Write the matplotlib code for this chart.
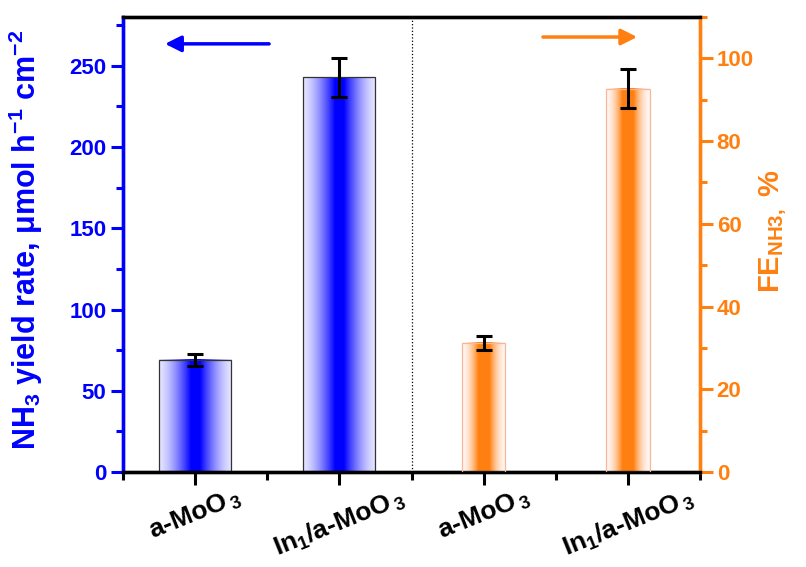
import numpy as np
import matplotlib
matplotlib.use("Agg")
import matplotlib.pyplot as plt
from matplotlib.colors import to_rgb
from matplotlib.ticker import MultipleLocator, FixedLocator

plt.rcParams['font.family'] = ['Liberation Sans', 'DejaVu Sans']
plt.rcParams['font.weight'] = 'bold'
plt.rcParams['mathtext.fontset'] = 'custom'
plt.rcParams['mathtext.rm'] = 'Liberation Sans:bold'
plt.rcParams['mathtext.it'] = 'Liberation Sans:bold:italic'
plt.rcParams['mathtext.bf'] = 'Liberation Sans:bold'
plt.rcParams['mathtext.default'] = 'rm'

# ---- data ----
categories = ["a-MoO$_{\\,3}$", "In$_1$/a-MoO$_{\\,3}$", "a-MoO$_{\\,3}$", "In$_1$/a-MoO$_{\\,3}$"]
yield_rate = [69, 243]          # NH3 yield rate, umol h-1 cm-2
yield_err = [3.5, 12]
fe_values = [31.2, 92.7]        # FE NH3, %
fe_err = [1.7, 4.7]

BLUE = '#0000ff'
ORANGE = '#ff8010'

fig = plt.figure(figsize=(8.06, 5.67), dpi=100)
ax = fig.add_axes([123/806, 1-472/567, (700-123)/806, (472-17)/567])
ax2 = ax.twinx()

x_yield = np.array([1, 2])
x_fe = np.array([3, 4])


def gradient_bars(axis, xs, hs, width, center, edge, edgecolor, core, power):
    c = np.array(to_rgb(center))
    e = np.array(to_rgb(edge))
    u = np.linspace(-1, 1, 401)
    w = np.clip((1 - np.abs(u)) / (1 - core), 0, 1) ** power
    row = e[None, :] * (1 - w[:, None]) + c[None, :] * w[:, None]
    img = np.repeat(row[None, :, :], 4, axis=0)
    bars = axis.bar(xs, hs, width=width, facecolor='none', edgecolor=edgecolor,
                    linewidth=0.9, zorder=3)
    for b in bars:
        x0 = b.get_x()
        axis.imshow(img, extent=(x0, x0 + b.get_width(), 0, b.get_height()),
                    aspect='auto', zorder=2, interpolation='nearest')
    return bars


gradient_bars(ax, x_yield, yield_rate, 0.5, BLUE, '#e4e4ff', '#333333', 0.12, 1.5)
ax.errorbar(x_yield, yield_rate, yerr=yield_err, fmt='none', ecolor='black',
            elinewidth=2.2, capsize=5.5, capthick=2.2, zorder=4)

gradient_bars(ax2, x_fe, fe_values, 0.3, ORANGE, '#fff6f2', '#f4b89a', 0.25, 1.8)
ax2.errorbar(x_fe, fe_values, yerr=fe_err, fmt='none', ecolor='black',
             elinewidth=2.2, capsize=5.5, capthick=2.2, zorder=4)

ax.axvline(2.5, color='black', ls=':', lw=0.9, zorder=1)

ax.set_xlim(0.5, 4.5)
ax.set_ylim(0, 280)
ax2.set_ylim(0, 110)

# ticks
ax.xaxis.set_major_locator(FixedLocator([1, 2, 3, 4]))
ax.xaxis.set_minor_locator(FixedLocator([0.5, 1.5, 2.5, 3.5, 4.5]))
ax.set_xticklabels(categories, rotation=22, fontsize=19, fontweight='bold')
ax.yaxis.set_major_locator(MultipleLocator(50))
ax.yaxis.set_minor_locator(MultipleLocator(25))
ax2.yaxis.set_major_locator(MultipleLocator(20))
ax2.yaxis.set_minor_locator(MultipleLocator(10))

ax.tick_params(axis='x', which='major', direction='out', length=9, width=2.2,
               color='black', pad=0)
ax.tick_params(axis='x', which='minor', direction='out', length=6, width=2.2,
               color='black')
ax.tick_params(axis='y', which='major', direction='out', length=9, width=2.2,
               color=BLUE, labelcolor=BLUE, labelsize=16, pad=3)
ax.tick_params(axis='y', which='minor', direction='out', length=5, width=2.2,
               color=BLUE)
ax2.tick_params(axis='y', which='major', direction='out', length=9, width=2.2,
                color=ORANGE, labelcolor=ORANGE, labelsize=16, pad=3)
ax2.tick_params(axis='y', which='minor', direction='out', length=5, width=2.2,
                color=ORANGE)
for t in ax.get_yticklabels() + ax2.get_yticklabels():
    t.set_fontweight('bold')

for a in (ax, ax2):
    a.spines['top'].set_color('black')
    a.spines['bottom'].set_color('black')
    a.spines['left'].set_color(BLUE)
    a.spines['right'].set_color(ORANGE)
    for s in a.spines.values():
        s.set_linewidth(2.4)

ax.set_ylabel("NH$_3$ yield rate, μmol h$^{-1}$ cm$^{-2}$", color=BLUE,
              fontsize=22, fontweight='bold')
ax.yaxis.set_label_coords(-0.135, 0.51)
ax2.set_ylabel("FE$_{\\mathrm{NH3,}}$ %", color=ORANGE, fontsize=21,
               fontweight='bold')
ax2.yaxis.set_label_coords(1.10, 0.53)

# direction arrows
ax.annotate('', xy=(0.068, 0.941), xytext=(0.258, 0.941), xycoords='axes fraction',
            arrowprops=dict(arrowstyle='-|>', color=BLUE, lw=2.5, mutation_scale=24))
ax.annotate('', xy=(0.896, 0.956), xytext=(0.723, 0.956), xycoords='axes fraction',
            arrowprops=dict(arrowstyle='-|>', color=ORANGE, lw=2.5, mutation_scale=24))

fig.savefig("out.png", dpi=100)
